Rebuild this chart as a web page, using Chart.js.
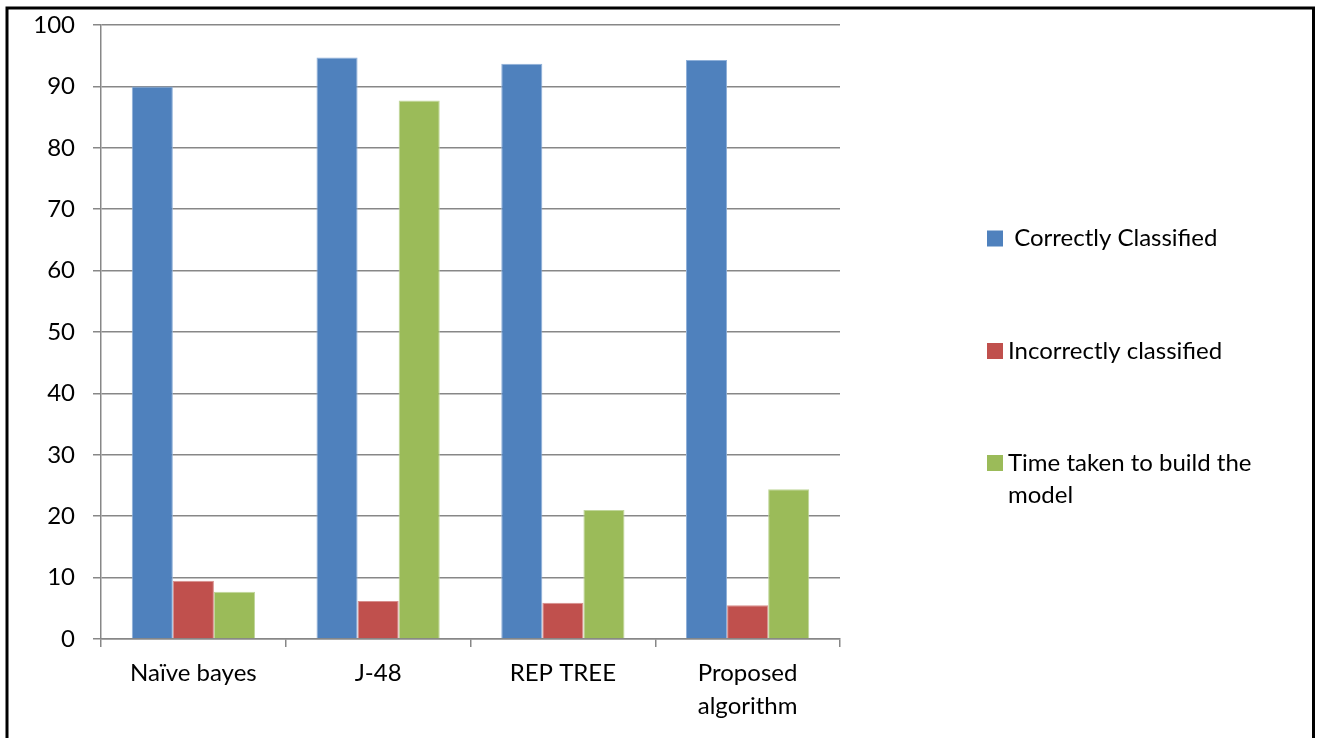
<!DOCTYPE html>
<html>
<head>
<meta charset="utf-8">
<script src="https://cdn.jsdelivr.net/npm/chart.js@4.4.1/dist/chart.umd.min.js"></script>
<style>
  html, body { margin: 0; padding: 0; background: #ffffff; }
  #wrap { width: 1318px; height: 738px; position: relative; }
</style>
</head>
<body>
<div id="wrap"><canvas id="c"></canvas></div>
<script>
// Classifier comparison data
const categories = ['Naïve bayes', 'J-48', 'REP TREE', ['Proposed', 'algorithm']];
const correctlyClassified = [90.0, 94.7, 93.7, 94.3];
const incorrectlyClassified = [9.5, 6.2, 5.9, 5.5];
const timeTaken = [7.7, 87.7, 21.0, 24.4];
const seriesNames = [' Correctly Classified', 'Incorrectly classified', ['Time taken to build the', 'model']];
const seriesColors = ['#4F81BD', '#C0504D', '#9BBB59'];
const seriesEdges = ['#8FB0D9', '#D78E8C', '#C0D69A'];

const FONT = 'Lato, "Open Sans", sans-serif';
const FONT_SIZE = 24;
const GRID = '#878787';

// Outer frame around the whole figure
const framePlugin = {
  id: 'frame',
  beforeDraw(chart) {
    const ctx = chart.ctx;
    ctx.save();
    ctx.fillStyle = '#ffffff';
    ctx.fillRect(0, 0, chart.width, chart.height);
    ctx.strokeStyle = '#000000';
    ctx.lineWidth = 3;
    ctx.beginPath();
    ctx.moveTo(7, chart.height + 5);
    ctx.lineTo(7, 8);
    ctx.lineTo(1313.5, 8);
    ctx.lineTo(1313.5, chart.height + 5);
    ctx.stroke();
    ctx.restore();
  }
};

// Legend drawn at the right side, one entry per dataset
const sideLegend = {
  id: 'sideLegend',
  afterDraw(chart) {
    const ctx = chart.ctx;
    const rows = [238.5, 351, 463];
    const lineGap = 32;
    ctx.save();
    ctx.font = FONT_SIZE + 'px ' + FONT;
    ctx.textBaseline = 'middle';
    ctx.textAlign = 'left';
    chart.data.datasets.forEach((ds, i) => {
      const y = rows[i];
      ctx.fillStyle = ds.backgroundColor;
      ctx.fillRect(987, y - 8, 16, 16);
      ctx.fillStyle = '#000000';
      const lines = Array.isArray(ds.label) ? ds.label : [ds.label];
      lines.forEach((t, k) => ctx.fillText(t, 1008, y + k * lineGap));
    });
    ctx.restore();
  }
};

new Chart(document.getElementById('c'), {
  type: 'bar',
  data: {
    labels: categories,
    datasets: [
      { label: seriesNames[0], data: correctlyClassified, backgroundColor: seriesColors[0], borderColor: seriesEdges[0], borderWidth: 1 },
      { label: seriesNames[1], data: incorrectlyClassified, backgroundColor: seriesColors[1], borderColor: seriesEdges[1], borderWidth: 1 },
      { label: seriesNames[2], data: timeTaken, backgroundColor: seriesColors[2], borderColor: seriesEdges[2], borderWidth: 1 }
    ]
  },
  options: {
    responsive: true,
    maintainAspectRatio: false,
    animation: false,
    layout: { padding: { left: 0, top: 25, right: 478, bottom: 0 } },
    datasets: { bar: { categoryPercentage: 0.667, barPercentage: 1.0 } },
    plugins: { legend: { display: false }, tooltip: { enabled: false } },
    scales: {
      x: {
        afterFit(scale) { scale.height = 99; scale.paddingLeft = 0; scale.paddingRight = 0; },
        grid: { drawOnChartArea: false, drawTicks: true, tickLength: 8, color: GRID, lineWidth: 1.5, offset: true },
        border: { display: true, color: GRID, width: 1.5 },
        ticks: { color: '#000000', font: { family: FONT, size: FONT_SIZE, lineHeight: 1.38 }, padding: 10, maxRotation: 0, autoSkip: false }
      },
      y: {
        min: 0,
        max: 100,
        afterFit(scale) { scale.width = 101; scale.paddingTop = 0; scale.paddingBottom = 0; },
        grid: { color: GRID, lineWidth: 1.5, tickLength: 8, drawTicks: true },
        border: { display: true, color: GRID, width: 1.5 },
        ticks: { stepSize: 10, color: '#000000', font: { family: FONT, size: FONT_SIZE }, padding: 18 }
      }
    }
  },
  plugins: [framePlugin, sideLegend]
});
</script>
</body>
</html>
